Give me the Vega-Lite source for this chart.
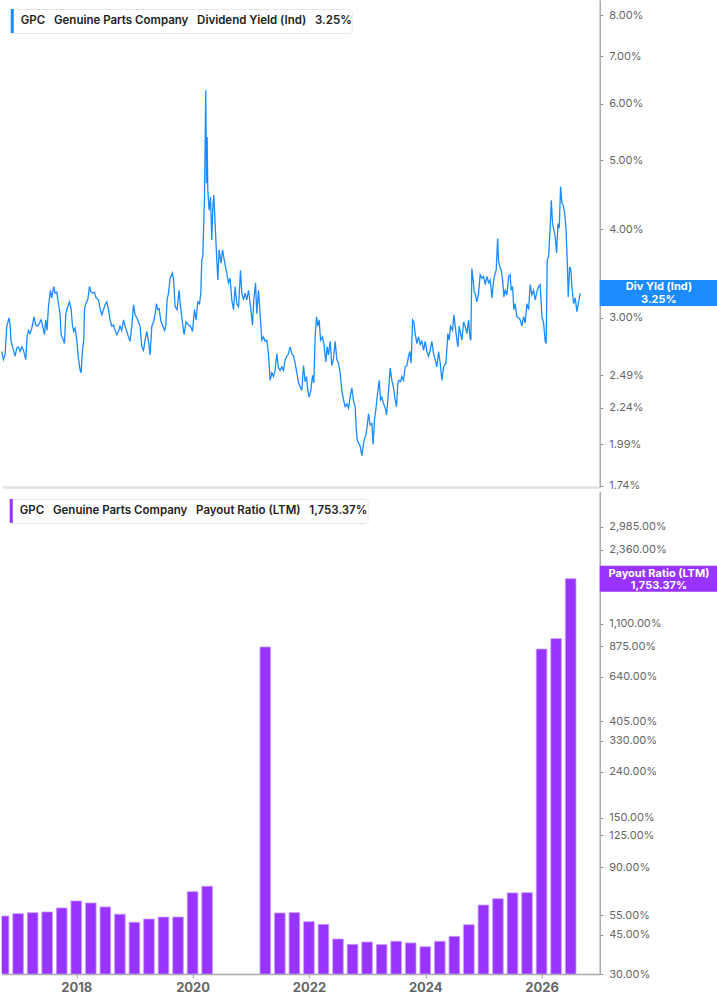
{
  "$schema": "https://vega.github.io/schema/vega-lite/v6.json",
  "padding": {"left": -1.25, "top": 0, "right": 0, "bottom": 0},
  "config": {"view": {"stroke": null}, "font": "Inter"},
  "datasets": {
    "yield": [
      {"year": 2016.719, "yield": 2.69}, {"year": 2016.748, "yield": 2.62}, {"year": 2016.776, "yield": 2.66},
      {"year": 2016.805, "yield": 2.92}, {"year": 2016.845, "yield": 3.00}, {"year": 2016.862, "yield": 2.93},
      {"year": 2016.879, "yield": 2.78}, {"year": 2016.920, "yield": 2.70}, {"year": 2016.948, "yield": 2.65},
      {"year": 2016.977, "yield": 2.72}, {"year": 2017.006, "yield": 2.73}, {"year": 2017.034, "yield": 2.69},
      {"year": 2017.063, "yield": 2.73}, {"year": 2017.092, "yield": 2.70}, {"year": 2017.132, "yield": 2.62},
      {"year": 2017.154, "yield": 2.82}, {"year": 2017.178, "yield": 2.88}, {"year": 2017.206, "yield": 2.85},
      {"year": 2017.235, "yield": 2.90}, {"year": 2017.274, "yield": 3.01}, {"year": 2017.304, "yield": 2.93},
      {"year": 2017.338, "yield": 2.92}, {"year": 2017.367, "yield": 2.95}, {"year": 2017.395, "yield": 2.98},
      {"year": 2017.424, "yield": 2.92}, {"year": 2017.453, "yield": 2.84}, {"year": 2017.476, "yield": 2.98},
      {"year": 2017.498, "yield": 2.88}, {"year": 2017.522, "yield": 3.11}, {"year": 2017.556, "yield": 3.28},
      {"year": 2017.579, "yield": 3.20}, {"year": 2017.613, "yield": 3.32}, {"year": 2017.636, "yield": 3.25},
      {"year": 2017.665, "yield": 3.26}, {"year": 2017.694, "yield": 3.14}, {"year": 2017.722, "yield": 3.04},
      {"year": 2017.739, "yield": 2.84}, {"year": 2017.780, "yield": 2.79}, {"year": 2017.797, "yield": 2.76},
      {"year": 2017.820, "yield": 3.04}, {"year": 2017.854, "yield": 3.11}, {"year": 2017.883, "yield": 3.16},
      {"year": 2017.911, "yield": 3.09}, {"year": 2017.935, "yield": 2.92}, {"year": 2017.957, "yield": 2.87},
      {"year": 2017.980, "yield": 2.90}, {"year": 2018.009, "yield": 2.79}, {"year": 2018.038, "yield": 2.63},
      {"year": 2018.066, "yield": 2.53}, {"year": 2018.083, "yield": 2.51}, {"year": 2018.107, "yield": 2.70},
      {"year": 2018.129, "yield": 2.79}, {"year": 2018.141, "yield": 3.08}, {"year": 2018.163, "yield": 3.14},
      {"year": 2018.198, "yield": 3.18}, {"year": 2018.227, "yield": 3.32}, {"year": 2018.255, "yield": 3.26},
      {"year": 2018.284, "yield": 3.25}, {"year": 2018.313, "yield": 3.26}, {"year": 2018.341, "yield": 3.20},
      {"year": 2018.382, "yield": 3.18}, {"year": 2018.409, "yield": 3.09}, {"year": 2018.439, "yield": 3.03},
      {"year": 2018.468, "yield": 3.08}, {"year": 2018.495, "yield": 3.13}, {"year": 2018.525, "yield": 3.16},
      {"year": 2018.554, "yield": 3.08}, {"year": 2018.581, "yield": 2.98}, {"year": 2018.611, "yield": 2.92},
      {"year": 2018.640, "yield": 2.93}, {"year": 2018.667, "yield": 2.88}, {"year": 2018.697, "yield": 2.84},
      {"year": 2018.726, "yield": 2.87}, {"year": 2018.753, "yield": 2.92}, {"year": 2018.783, "yield": 2.88},
      {"year": 2018.812, "yield": 2.98}, {"year": 2018.839, "yield": 2.92}, {"year": 2018.869, "yield": 2.87},
      {"year": 2018.898, "yield": 2.82}, {"year": 2018.925, "yield": 2.78}, {"year": 2018.955, "yield": 2.92},
      {"year": 2018.984, "yield": 3.13}, {"year": 2019.011, "yield": 3.03}, {"year": 2019.041, "yield": 3.00},
      {"year": 2019.070, "yield": 2.96}, {"year": 2019.097, "yield": 2.92}, {"year": 2019.127, "yield": 2.73},
      {"year": 2019.156, "yield": 2.70}, {"year": 2019.183, "yield": 2.79}, {"year": 2019.213, "yield": 2.87},
      {"year": 2019.242, "yield": 2.78}, {"year": 2019.269, "yield": 2.66}, {"year": 2019.299, "yield": 2.92},
      {"year": 2019.328, "yield": 2.96}, {"year": 2019.355, "yield": 3.03}, {"year": 2019.379, "yield": 3.14},
      {"year": 2019.402, "yield": 3.08}, {"year": 2019.424, "yield": 3.09}, {"year": 2019.458, "yield": 2.96},
      {"year": 2019.483, "yield": 2.93}, {"year": 2019.517, "yield": 2.88}, {"year": 2019.539, "yield": 2.92},
      {"year": 2019.562, "yield": 3.18}, {"year": 2019.586, "yield": 3.25}, {"year": 2019.613, "yield": 3.41},
      {"year": 2019.655, "yield": 3.47}, {"year": 2019.677, "yield": 3.36}, {"year": 2019.699, "yield": 3.11},
      {"year": 2019.734, "yield": 3.08}, {"year": 2019.768, "yield": 3.28}, {"year": 2019.792, "yield": 3.11},
      {"year": 2019.827, "yield": 2.95}, {"year": 2019.854, "yield": 2.84}, {"year": 2019.888, "yield": 2.96},
      {"year": 2019.930, "yield": 2.93}, {"year": 2019.964, "yield": 2.92}, {"year": 2019.998, "yield": 2.87},
      {"year": 2020.033, "yield": 3.08}, {"year": 2020.060, "yield": 2.98}, {"year": 2020.090, "yield": 3.16},
      {"year": 2020.119, "yield": 3.14}, {"year": 2020.141, "yield": 3.25}, {"year": 2020.158, "yield": 3.62},
      {"year": 2020.176, "yield": 3.66}, {"year": 2020.193, "yield": 4.12}, {"year": 2020.205, "yield": 4.44},
      {"year": 2020.215, "yield": 5.22}, {"year": 2020.227, "yield": 6.27}, {"year": 2020.239, "yield": 4.64},
      {"year": 2020.250, "yield": 5.39}, {"year": 2020.261, "yield": 4.54}, {"year": 2020.284, "yield": 4.25},
      {"year": 2020.308, "yield": 4.44}, {"year": 2020.330, "yield": 3.86}, {"year": 2020.348, "yield": 4.30},
      {"year": 2020.365, "yield": 4.47}, {"year": 2020.387, "yield": 4.07}, {"year": 2020.416, "yield": 3.62},
      {"year": 2020.434, "yield": 3.39}, {"year": 2020.456, "yield": 3.74}, {"year": 2020.490, "yield": 3.58},
      {"year": 2020.515, "yield": 3.74}, {"year": 2020.549, "yield": 3.60}, {"year": 2020.583, "yield": 3.48},
      {"year": 2020.617, "yield": 3.36}, {"year": 2020.645, "yield": 3.41}, {"year": 2020.674, "yield": 3.18},
      {"year": 2020.704, "yield": 3.08}, {"year": 2020.731, "yield": 3.32}, {"year": 2020.760, "yield": 3.14},
      {"year": 2020.790, "yield": 3.11}, {"year": 2020.824, "yield": 3.50}, {"year": 2020.846, "yield": 3.25},
      {"year": 2020.876, "yield": 3.18}, {"year": 2020.903, "yield": 3.25}, {"year": 2020.932, "yield": 3.18},
      {"year": 2020.961, "yield": 3.28}, {"year": 2020.996, "yield": 3.11}, {"year": 2021.030, "yield": 2.93},
      {"year": 2021.053, "yield": 3.18}, {"year": 2021.082, "yield": 3.36}, {"year": 2021.104, "yield": 3.04},
      {"year": 2021.133, "yield": 3.28}, {"year": 2021.161, "yield": 3.04}, {"year": 2021.190, "yield": 2.79},
      {"year": 2021.219, "yield": 2.82}, {"year": 2021.247, "yield": 2.78}, {"year": 2021.276, "yield": 2.79},
      {"year": 2021.305, "yield": 2.67}, {"year": 2021.333, "yield": 2.45}, {"year": 2021.362, "yield": 2.51},
      {"year": 2021.391, "yield": 2.48}, {"year": 2021.419, "yield": 2.53}, {"year": 2021.448, "yield": 2.67},
      {"year": 2021.477, "yield": 2.55}, {"year": 2021.505, "yield": 2.53}, {"year": 2021.534, "yield": 2.56},
      {"year": 2021.563, "yield": 2.53}, {"year": 2021.591, "yield": 2.62}, {"year": 2021.620, "yield": 2.65},
      {"year": 2021.649, "yield": 2.67}, {"year": 2021.677, "yield": 2.73}, {"year": 2021.706, "yield": 2.67},
      {"year": 2021.735, "yield": 2.65}, {"year": 2021.763, "yield": 2.59}, {"year": 2021.792, "yield": 2.51},
      {"year": 2021.821, "yield": 2.43}, {"year": 2021.849, "yield": 2.40}, {"year": 2021.878, "yield": 2.37},
      {"year": 2021.907, "yield": 2.57}, {"year": 2021.935, "yield": 2.44}, {"year": 2021.959, "yield": 2.48},
      {"year": 2021.981, "yield": 2.37}, {"year": 2022.004, "yield": 2.32}, {"year": 2022.033, "yield": 2.37},
      {"year": 2022.062, "yield": 2.49}, {"year": 2022.085, "yield": 2.43}, {"year": 2022.107, "yield": 2.82},
      {"year": 2022.131, "yield": 3.01}, {"year": 2022.153, "yield": 2.92}, {"year": 2022.176, "yield": 2.98},
      {"year": 2022.200, "yield": 2.79}, {"year": 2022.234, "yield": 2.82}, {"year": 2022.256, "yield": 2.76},
      {"year": 2022.291, "yield": 2.60}, {"year": 2022.313, "yield": 2.73}, {"year": 2022.337, "yield": 2.66},
      {"year": 2022.365, "yield": 2.78}, {"year": 2022.394, "yield": 2.57}, {"year": 2022.423, "yield": 2.63},
      {"year": 2022.451, "yield": 2.78}, {"year": 2022.480, "yield": 2.62}, {"year": 2022.509, "yield": 2.59},
      {"year": 2022.537, "yield": 2.51}, {"year": 2022.566, "yield": 2.37}, {"year": 2022.595, "yield": 2.30},
      {"year": 2022.623, "yield": 2.25}, {"year": 2022.652, "yield": 2.27}, {"year": 2022.681, "yield": 2.24},
      {"year": 2022.709, "yield": 2.32}, {"year": 2022.738, "yield": 2.39}, {"year": 2022.767, "yield": 2.29},
      {"year": 2022.795, "yield": 2.25}, {"year": 2022.812, "yield": 2.11}, {"year": 2022.829, "yield": 2.02},
      {"year": 2022.853, "yield": 2.00}, {"year": 2022.881, "yield": 1.98}, {"year": 2022.910, "yield": 1.92},
      {"year": 2022.932, "yield": 1.98}, {"year": 2022.956, "yield": 2.03}, {"year": 2022.979, "yield": 2.05},
      {"year": 2023.001, "yield": 2.11}, {"year": 2023.025, "yield": 2.20}, {"year": 2023.052, "yield": 2.12},
      {"year": 2023.082, "yield": 2.13}, {"year": 2023.104, "yield": 1.99}, {"year": 2023.128, "yield": 2.16},
      {"year": 2023.151, "yield": 2.23}, {"year": 2023.173, "yield": 2.32}, {"year": 2023.208, "yield": 2.45},
      {"year": 2023.231, "yield": 2.30}, {"year": 2023.254, "yield": 2.32}, {"year": 2023.283, "yield": 2.27},
      {"year": 2023.311, "yield": 2.24}, {"year": 2023.335, "yield": 2.19}, {"year": 2023.357, "yield": 2.30},
      {"year": 2023.379, "yield": 2.43}, {"year": 2023.397, "yield": 2.55}, {"year": 2023.426, "yield": 2.45},
      {"year": 2023.455, "yield": 2.39}, {"year": 2023.482, "yield": 2.30}, {"year": 2023.506, "yield": 2.25},
      {"year": 2023.529, "yield": 2.43}, {"year": 2023.551, "yield": 2.45}, {"year": 2023.575, "yield": 2.44},
      {"year": 2023.598, "yield": 2.48}, {"year": 2023.627, "yield": 2.45}, {"year": 2023.655, "yield": 2.56},
      {"year": 2023.684, "yield": 2.57}, {"year": 2023.713, "yield": 2.65}, {"year": 2023.735, "yield": 2.69},
      {"year": 2023.757, "yield": 2.59}, {"year": 2023.782, "yield": 2.98}, {"year": 2023.804, "yield": 2.96},
      {"year": 2023.827, "yield": 2.85}, {"year": 2023.856, "yield": 2.76}, {"year": 2023.885, "yield": 2.82},
      {"year": 2023.913, "yield": 2.75}, {"year": 2023.942, "yield": 2.78}, {"year": 2023.971, "yield": 2.70},
      {"year": 2023.999, "yield": 2.78}, {"year": 2024.028, "yield": 2.69}, {"year": 2024.057, "yield": 2.65},
      {"year": 2024.085, "yield": 2.70}, {"year": 2024.114, "yield": 2.78}, {"year": 2024.143, "yield": 2.67},
      {"year": 2024.171, "yield": 2.62}, {"year": 2024.200, "yield": 2.56}, {"year": 2024.229, "yield": 2.69},
      {"year": 2024.257, "yield": 2.59}, {"year": 2024.286, "yield": 2.45}, {"year": 2024.315, "yield": 2.56},
      {"year": 2024.355, "yield": 2.59}, {"year": 2024.389, "yield": 2.85}, {"year": 2024.411, "yield": 2.79},
      {"year": 2024.435, "yield": 2.92}, {"year": 2024.470, "yield": 2.88}, {"year": 2024.492, "yield": 3.03},
      {"year": 2024.515, "yield": 2.92}, {"year": 2024.544, "yield": 2.79}, {"year": 2024.561, "yield": 2.73},
      {"year": 2024.583, "yield": 2.92}, {"year": 2024.607, "yield": 2.85}, {"year": 2024.630, "yield": 2.79},
      {"year": 2024.659, "yield": 2.96}, {"year": 2024.686, "yield": 2.92}, {"year": 2024.716, "yield": 2.85},
      {"year": 2024.745, "yield": 2.98}, {"year": 2024.767, "yield": 2.82}, {"year": 2024.784, "yield": 2.79},
      {"year": 2024.801, "yield": 3.52}, {"year": 2024.824, "yield": 3.39}, {"year": 2024.841, "yield": 3.26},
      {"year": 2024.858, "yield": 3.25}, {"year": 2024.888, "yield": 3.16}, {"year": 2024.917, "yield": 3.25},
      {"year": 2024.944, "yield": 3.45}, {"year": 2024.974, "yield": 3.41}, {"year": 2025.003, "yield": 3.43},
      {"year": 2025.031, "yield": 3.34}, {"year": 2025.060, "yield": 3.43}, {"year": 2025.089, "yield": 3.36},
      {"year": 2025.117, "yield": 3.39}, {"year": 2025.146, "yield": 3.20}, {"year": 2025.175, "yield": 3.39},
      {"year": 2025.203, "yield": 3.47}, {"year": 2025.220, "yield": 3.50}, {"year": 2025.244, "yield": 3.88},
      {"year": 2025.261, "yield": 3.60}, {"year": 2025.283, "yield": 3.54}, {"year": 2025.306, "yield": 3.50},
      {"year": 2025.330, "yield": 3.39}, {"year": 2025.352, "yield": 3.21}, {"year": 2025.374, "yield": 3.28},
      {"year": 2025.404, "yield": 3.23}, {"year": 2025.433, "yield": 3.43}, {"year": 2025.460, "yield": 3.45},
      {"year": 2025.477, "yield": 3.28}, {"year": 2025.501, "yield": 3.32}, {"year": 2025.524, "yield": 3.08},
      {"year": 2025.546, "yield": 3.14}, {"year": 2025.575, "yield": 3.01}, {"year": 2025.605, "yield": 3.00},
      {"year": 2025.632, "yield": 2.98}, {"year": 2025.661, "yield": 2.92}, {"year": 2025.691, "yield": 3.01},
      {"year": 2025.718, "yield": 2.95}, {"year": 2025.747, "yield": 3.14}, {"year": 2025.777, "yield": 3.08},
      {"year": 2025.804, "yield": 3.34}, {"year": 2025.833, "yield": 3.23}, {"year": 2025.863, "yield": 3.28},
      {"year": 2025.890, "yield": 3.18}, {"year": 2025.919, "yield": 3.26}, {"year": 2025.949, "yield": 3.32},
      {"year": 2025.976, "yield": 3.34}, {"year": 2026.006, "yield": 3.01}, {"year": 2026.035, "yield": 2.95},
      {"year": 2026.062, "yield": 2.78}, {"year": 2026.079, "yield": 2.76}, {"year": 2026.097, "yield": 3.62},
      {"year": 2026.121, "yield": 3.66}, {"year": 2026.148, "yield": 4.01}, {"year": 2026.166, "yield": 4.39},
      {"year": 2026.189, "yield": 4.07}, {"year": 2026.212, "yield": 3.99}, {"year": 2026.234, "yield": 3.90},
      {"year": 2026.258, "yield": 3.70}, {"year": 2026.281, "yield": 4.07}, {"year": 2026.303, "yield": 4.01},
      {"year": 2026.327, "yield": 4.59}, {"year": 2026.349, "yield": 4.35}, {"year": 2026.372, "yield": 4.32},
      {"year": 2026.396, "yield": 4.21}, {"year": 2026.418, "yield": 4.03}, {"year": 2026.441, "yield": 3.62},
      {"year": 2026.458, "yield": 3.21}, {"year": 2026.482, "yield": 3.54}, {"year": 2026.504, "yield": 3.50},
      {"year": 2026.521, "yield": 3.32}, {"year": 2026.550, "yield": 3.14}, {"year": 2026.578, "yield": 3.20},
      {"year": 2026.607, "yield": 3.06}, {"year": 2026.637, "yield": 3.16}, {"year": 2026.664, "yield": 3.25}
    ],
    "payout": [
      {"year": 2016.75, "payout": 54.5}, {"year": 2017.0, "payout": 55.8}, {"year": 2017.25, "payout": 56.4},
      {"year": 2017.5, "payout": 56.8}, {"year": 2017.75, "payout": 59.2}, {"year": 2018.0, "payout": 63.6},
      {"year": 2018.25, "payout": 62.3}, {"year": 2018.5, "payout": 59.8}, {"year": 2018.75, "payout": 55.5},
      {"year": 2019.0, "payout": 51.1}, {"year": 2019.25, "payout": 52.8}, {"year": 2019.5, "payout": 53.9},
      {"year": 2019.75, "payout": 53.9}, {"year": 2020.0, "payout": 70.0}, {"year": 2020.25, "payout": 74.0},
      {"year": 2021.25, "payout": 868}, {"year": 2021.5, "payout": 56.2}, {"year": 2021.75, "payout": 56.4},
      {"year": 2022.0, "payout": 51.4}, {"year": 2022.25, "payout": 50.0}, {"year": 2022.5, "payout": 43.0},
      {"year": 2022.75, "payout": 40.7}, {"year": 2023.0, "payout": 41.7}, {"year": 2023.25, "payout": 40.6},
      {"year": 2023.5, "payout": 42.0}, {"year": 2023.75, "payout": 41.3}, {"year": 2024.0, "payout": 39.7},
      {"year": 2024.25, "payout": 42.0}, {"year": 2024.5, "payout": 44.2}, {"year": 2024.75, "payout": 49.8},
      {"year": 2025.0, "payout": 61.0}, {"year": 2025.25, "payout": 65.1}, {"year": 2025.5, "payout": 69.1},
      {"year": 2025.75, "payout": 69.3}, {"year": 2026.0, "payout": 850}, {"year": 2026.25, "payout": 946},
      {"year": 2026.5, "payout": 1753.37}
    ]
  },
  "vconcat": [
    {
      "width": 598,
      "height": 487,
      "data": {"name": "yield"},
      "layer": [
        {
          "mark": {"type": "line", "strokeWidth": 1.3},
          "encoding": {
            "x": {
              "field": "year", "type": "quantitative",
              "scale": {"domain": [2016.719, 2027.0], "nice": false, "zero": false, "padding": 0},
              "axis": {"title": null, "labels": false, "ticks": false, "grid": false, "domainColor": "#e2e2e2", "domainWidth": 2.5, "minExtent": 0, "maxExtent": 0}
            },
            "y": {
              "field": "yield", "type": "quantitative",
              "scale": {"type": "log", "domain": [1.734, 8.4], "nice": false, "padding": 0},
              "axis": {
                "orient": "right", "title": null, "grid": false,
                "values": [1.74, 1.99, 2.24, 2.49, 3, 4, 5, 6, 7, 8],
                "labelExpr": "format(datum.value, '.2f') + '%'",
                "labelOverlap": false, "labelFlush": false,
                "domainColor": "#aaaaaa", "domainWidth": 1.5,
                "tickColor": "#888888", "tickSize": 3, "labelPadding": 6,
                "labelFontSize": 11, "labelColor": "#666666"
              }
            },
            "color": {
              "datum": "GPC\u00a0\u00a0 Genuine Parts Company\u00a0\u00a0 Dividend Yield (Ind)\u00a0\u00a0 3.25%\u00a0\u00a0",
              "scale": {"range": ["#1a8cff"]},
              "legend": {
                "title": null, "orient": "top-left", "offset": 9, "padding": 0,
                "fillColor": "white", "strokeColor": "#e6e6e6", "cornerRadius": 3,
                "symbolType": "M-1,-1H-0.75V1H-1Z", "symbolSize": 576,
                "symbolFillColor": "#1a8cff", "symbolStrokeWidth": 0,
                "labelFontSize": 11.5, "labelFontWeight": 600, "labelColor": "#222222",
                "labelOffset": -14, "labelLimit": 600,
                "encode": {"symbols": {"update": {"fill": {"value": "#1a8cff"}, "strokeWidth": {"value": 0}}}}
              }
            }
          }
        },
        {
          "transform": [{"filter": "datum.year > 2026.66"}],
          "mark": {"type": "rect", "color": "#1a8cff", "height": 26},
          "encoding": {
            "x": {"datum": 2027.0},
            "x2": {"datum": 2029.05},
            "y": {"field": "yield", "type": "quantitative"}
          }
        },
        {
          "transform": [{"filter": "datum.year > 2026.66"}],
          "mark": {"type": "text", "text": ["Div Yld (Ind)", "3.25%"], "color": "white", "fontWeight": "bold", "fontSize": 11, "lineHeight": 13, "baseline": "middle", "dy": -6},
          "encoding": {
            "x": {"datum": 2028.017},
            "y": {"field": "yield", "type": "quantitative"}
          }
        }
      ]
    },
    {
      "width": 598,
      "height": 483,
      "data": {"name": "payout"},
      "layer": [
        {
          "mark": {"type": "bar", "width": 10.6, "clip": true, "stroke": "#c39bff", "strokeWidth": 0.8},
          "encoding": {
            "x": {
              "field": "year", "type": "quantitative",
              "scale": {"domain": [2016.719, 2027.0], "nice": false, "zero": false, "padding": 0},
              "axis": {
                "title": null, "grid": false, "values": [2018, 2020, 2022, 2024, 2026], "format": "d",
                "labelFontWeight": "bold", "labelFontSize": 13, "labelColor": "#666666",
                "tickSize": 4, "tickColor": "#999999", "domainColor": "#aaaaaa", "domainWidth": 1.5,
                "labelPadding": 3
              }
            },
            "y": {
              "field": "payout", "type": "quantitative",
              "scale": {"type": "log", "domain": [30, 4322], "nice": false, "padding": 0},
              "axis": {
                "orient": "right", "title": null, "grid": false,
                "values": [30, 45, 55, 90, 125, 150, 240, 330, 405, 640, 875, 1100, 2360, 2985],
                "labelExpr": "format(datum.value, ',.2f') + '%'",
                "labelOverlap": false, "labelFlush": false,
                "domainColor": "#aaaaaa", "domainWidth": 1.5,
                "tickColor": "#888888", "tickSize": 3, "labelPadding": 6,
                "labelFontSize": 11, "labelColor": "#666666"
              }
            },
            "y2": {"datum": 30},
            "color": {
              "datum": "GPC\u00a0\u00a0 Genuine Parts Company\u00a0\u00a0 Payout Ratio (LTM)\u00a0\u00a0 1,753.37%\u00a0\u00a0",
              "scale": {"range": ["#9933ff"]},
              "legend": {
                "title": null, "orient": "top-left", "offset": 8, "padding": 0,
                "fillColor": "white", "strokeColor": "#e6e6e6", "cornerRadius": 3,
                "symbolType": "M-1,-1H-0.75V1H-1Z", "symbolSize": 576,
                "symbolFillColor": "#9933ff", "symbolStrokeWidth": 0,
                "labelFontSize": 11.5, "labelFontWeight": 600, "labelColor": "#222222",
                "labelOffset": -14, "labelLimit": 600,
                "encode": {"symbols": {"update": {"fill": {"value": "#9933ff"}, "stroke": {"value": "#9933ff"}, "strokeWidth": {"value": 0}}}}
              }
            }
          }
        },
        {
          "transform": [{"filter": "datum.year > 2026.4"}],
          "mark": {"type": "rect", "color": "#9933ff", "height": 26},
          "encoding": {
            "x": {"datum": 2027.0},
            "x2": {"datum": 2029.05},
            "y": {"field": "payout", "type": "quantitative"}
          }
        },
        {
          "transform": [{"filter": "datum.year > 2026.4"}],
          "mark": {"type": "text", "text": ["Payout Ratio (LTM)", "1,753.37%"], "color": "white", "fontWeight": "bold", "fontSize": 11, "lineHeight": 12, "baseline": "middle", "dy": -5},
          "encoding": {
            "x": {"datum": 2028.017},
            "y": {"field": "payout", "type": "quantitative"}
          }
        }
      ]
    }
  ],
  "spacing": 0,
  "resolve": {"scale": {"color": "independent", "y": "independent"}, "legend": {"color": "independent"}}
}
